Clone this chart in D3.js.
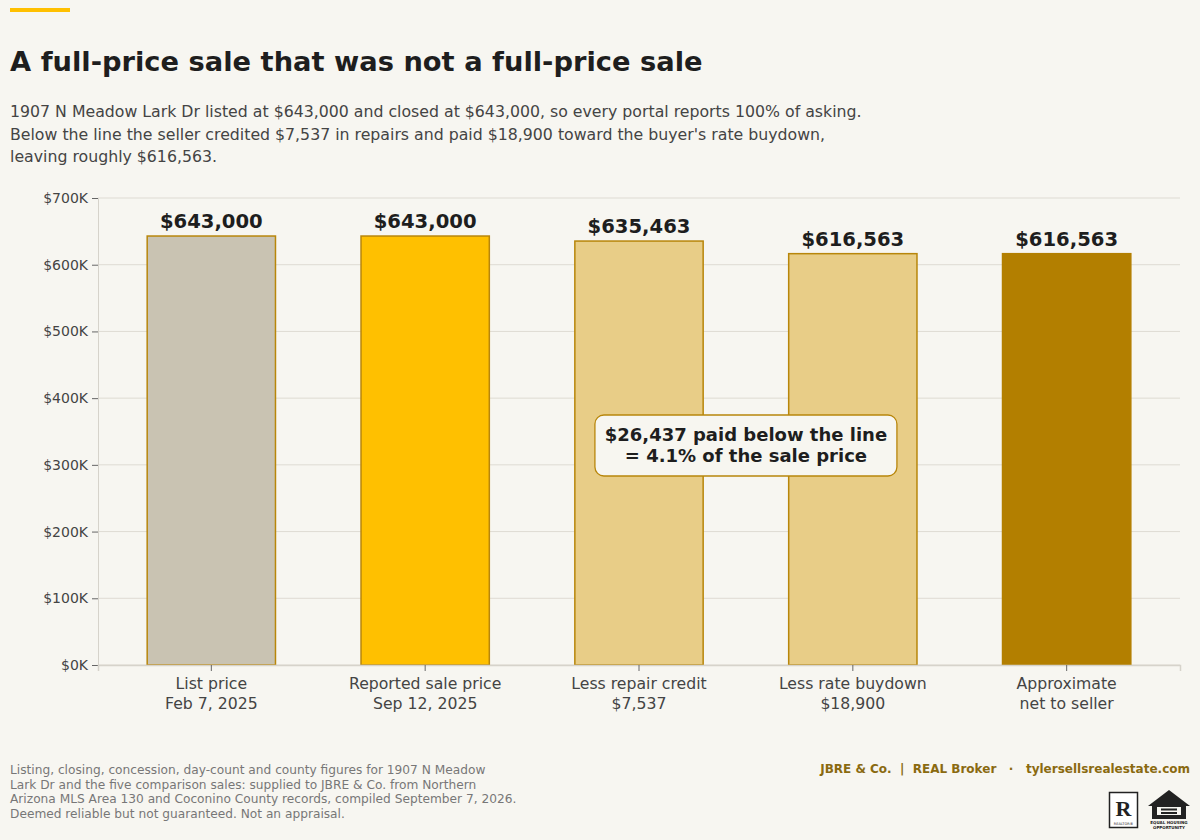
<!DOCTYPE html>
<html>
<head>
<meta charset="utf-8">
<script src="https://cdn.jsdelivr.net/npm/d3@7"></script>
<style>
  html, body { margin: 0; padding: 0; background: #F7F6F1; }
  svg { display: block; font-family: "DejaVu Sans", sans-serif; }
</style>
</head>
<body>
<svg id="chart" width="1200" height="840"></svg>
<script>
// ---- data ----
const categories = ["List price", "Reported sale price", "Less repair credit", "Less rate buydown", "Approximate"];
const subLabels = ["Feb 7, 2025", "Sep 12, 2025", "$7,537", "$18,900", "net to seller"];
const values = [643000, 643000, 635463, 616563, 616563];
const valueLabels = ["$643,000", "$643,000", "$635,463", "$616,563", "$616,563"];
const barColors = ["#C9C3B2", "#FFC000", "#E8CD87", "#E8CD87", "#B37F00"];
const yTicks = [0, 100000, 200000, 300000, 400000, 500000, 600000, 700000];
const subtitleLines = [
  "1907 N Meadow Lark Dr listed at $643,000 and closed at $643,000, so every portal reports 100% of asking.",
  "Below the line the seller credited $7,537 in repairs and paid $18,900 toward the buyer's rate buydown,",
  "leaving roughly $616,563."
];
const footerLines = [
  "Listing, closing, concession, day-count and county figures for 1907 N Meadow",
  "Lark Dr and the five comparison sales: supplied to JBRE & Co. from Northern",
  "Arizona MLS Area 130 and Coconino County records, compiled September 7, 2026.",
  "Deemed reliable but not guaranteed. Not an appraisal."
];
const annotationLines = ["$26,437 paid below the line", "= 4.1% of the sale price"];

// ---- layout ----
const svg = d3.select("#chart");
const W = 1200, H = 840;
const plot = { left: 98, right: 1180, top: 198, bottom: 665 };

svg.append("rect").attr("width", W).attr("height", H).attr("fill", "#F7F6F1");

// accent bar
svg.append("rect").attr("x", 10).attr("y", 8).attr("width", 60).attr("height", 4).attr("fill", "#FFC000");

// title
svg.append("text").attr("x", 10).attr("y", 71)
  .attr("font-size", 27.3).attr("font-weight", "bold").attr("fill", "#1E1E1E")
  .text("A full-price sale that was not a full-price sale");

// subtitle
svg.append("g").selectAll("text").data(subtitleLines).join("text")
  .attr("x", 10).attr("y", (d, i) => 117 + i * 22.5)
  .attr("font-size", 15.75).attr("fill", "#444")
  .text(d => d);

const x = d3.scaleBand().domain(categories).range([plot.left, plot.right])
  .paddingInner(0.4).paddingOuter(0.23);
const y = d3.scaleLinear().domain([0, 700000]).range([plot.bottom, plot.top]);

// gridlines
svg.append("g").selectAll("line").data(yTicks).join("line")
  .attr("x1", plot.left).attr("x2", plot.right)
  .attr("y1", d => y(d)).attr("y2", d => y(d))
  .attr("stroke", "#DEDBD3").attr("stroke-width", 1);

// y axis
const yAxis = svg.append("g").attr("transform", `translate(${plot.left},0)`)
  .call(d3.axisLeft(y).tickValues(yTicks).tickSize(6).tickPadding(4)
    .tickFormat(d => "$" + d3.format(",")(d / 1000) + "K"));
yAxis.attr("font-family", null).attr("font-size", null);
yAxis.select(".domain").attr("stroke", "#D6D3CB");
yAxis.selectAll(".tick line").attr("stroke", "#666");
yAxis.selectAll(".tick text").attr("font-size", 14).attr("fill", "#444");

// bars
svg.append("g").selectAll("rect").data(values).join("rect")
  .attr("x", (d, i) => x(categories[i]))
  .attr("y", d => y(d))
  .attr("width", x.bandwidth())
  .attr("height", d => y(0) - y(d))
  .attr("fill", (d, i) => barColors[i])
  .attr("stroke", (d, i) => i === 4 ? barColors[i] : "#B8860B")
  .attr("stroke-width", 1.5);

// x axis
const xAxis = svg.append("g").attr("transform", `translate(0,${plot.bottom})`)
  .call(d3.axisBottom(x).tickSize(6).tickPadding(5).tickFormat(""));
xAxis.select(".domain").attr("stroke", "#D6D3CB").attr("stroke-width", 1.5);
xAxis.selectAll(".tick line").attr("stroke", "#666");

// x labels
const xl = svg.append("g").selectAll("text").data(categories).join("text")
  .attr("x", d => x(d) + x.bandwidth() / 2)
  .attr("text-anchor", "middle").attr("font-size", 15.7).attr("fill", "#444");
xl.append("tspan").attr("x", d => x(d) + x.bandwidth() / 2).attr("y", 689).text(d => d);
xl.append("tspan").attr("x", d => x(d) + x.bandwidth() / 2).attr("y", 708.5).text((d, i) => subLabels[i]);

// value labels
svg.append("g").selectAll("text").data(values).join("text")
  .attr("x", (d, i) => x(categories[i]) + x.bandwidth() / 2)
  .attr("y", d => y(d) - 8)
  .attr("text-anchor", "middle").attr("font-size", 19.6).attr("font-weight", "bold")
  .attr("fill", "#1E1E1E")
  .text((d, i) => valueLabels[i]);

// annotation
const ax = (x(categories[2]) + x.bandwidth() / 2 + x(categories[3]) + x.bandwidth() / 2) / 2;
const ay = y(329000);
svg.append("rect").attr("x", ax - 151).attr("y", ay - 30.5).attr("width", 302).attr("height", 61)
  .attr("rx", 9).attr("fill", "#F7F6F0").attr("stroke", "#B8860B").attr("stroke-width", 1.3);
svg.append("g").selectAll("text").data(annotationLines).join("text")
  .attr("x", ax).attr("y", (d, i) => ay - 5 + i * 21.5)
  .attr("text-anchor", "middle").attr("font-size", 18).attr("font-weight", "bold").attr("fill", "#1E1E1E")
  .text(d => d);

// footer left
svg.append("g").selectAll("text").data(footerLines).join("text")
  .attr("x", 10).attr("y", (d, i) => 774 + i * 14.5)
  .attr("font-size", 12.2).attr("fill", "#777")
  .text(d => d);

// footer right
svg.append("text").attr("x", 1190).attr("y", 773).attr("text-anchor", "end")
  .attr("font-size", 12).attr("font-weight", "bold").attr("fill", "#8A6A10")
  .attr("xml:space", "preserve")
  .text("JBRE & Co.  |  REAL Broker   ·   tylersellsrealestate.com");

// logos
const lg = svg.append("g");
// Realtor
lg.append("rect").attr("x", 1109.5).attr("y", 792.5).attr("width", 28).attr("height", 35)
  .attr("fill", "#fff").attr("stroke", "#222").attr("stroke-width", 1.5);
lg.append("rect").attr("x", 1113).attr("y", 796).attr("width", 21).attr("height", 24).attr("fill", "#fff");
lg.append("text").attr("x", 1123.5).attr("y", 816).attr("text-anchor", "middle")
  .attr("font-size", 22).attr("font-weight", "bold").attr("fill", "#222")
  .attr("font-family", "Liberation Serif, serif").text("R");
lg.append("text").attr("x", 1123.5).attr("y", 825).attr("text-anchor", "middle")
  .attr("font-size", 3.5).attr("fill", "#222").text("REALTOR®");
// Equal housing
lg.append("path")
  .attr("d", "M1148,806 L1169,790 L1190,806 L1186,806 L1186,819 L1152,819 L1152,806 Z M1157,807 L1157,815 L1181,815 L1181,807 Z")
  .attr("fill", "#222").attr("fill-rule", "evenodd");
lg.append("rect").attr("x", 1161).attr("y", 808.5).attr("width", 16).attr("height", 2).attr("fill", "#222");
lg.append("rect").attr("x", 1161).attr("y", 812).attr("width", 16).attr("height", 2).attr("fill", "#222");
lg.append("text").attr("x", 1169).attr("y", 824).attr("text-anchor", "middle")
  .attr("font-size", 4).attr("font-weight", "bold").attr("fill", "#222").text("EQUAL HOUSING");
lg.append("text").attr("x", 1169).attr("y", 829).attr("text-anchor", "middle")
  .attr("font-size", 4).attr("font-weight", "bold").attr("fill", "#222").text("OPPORTUNITY");
</script>
</body>
</html>
